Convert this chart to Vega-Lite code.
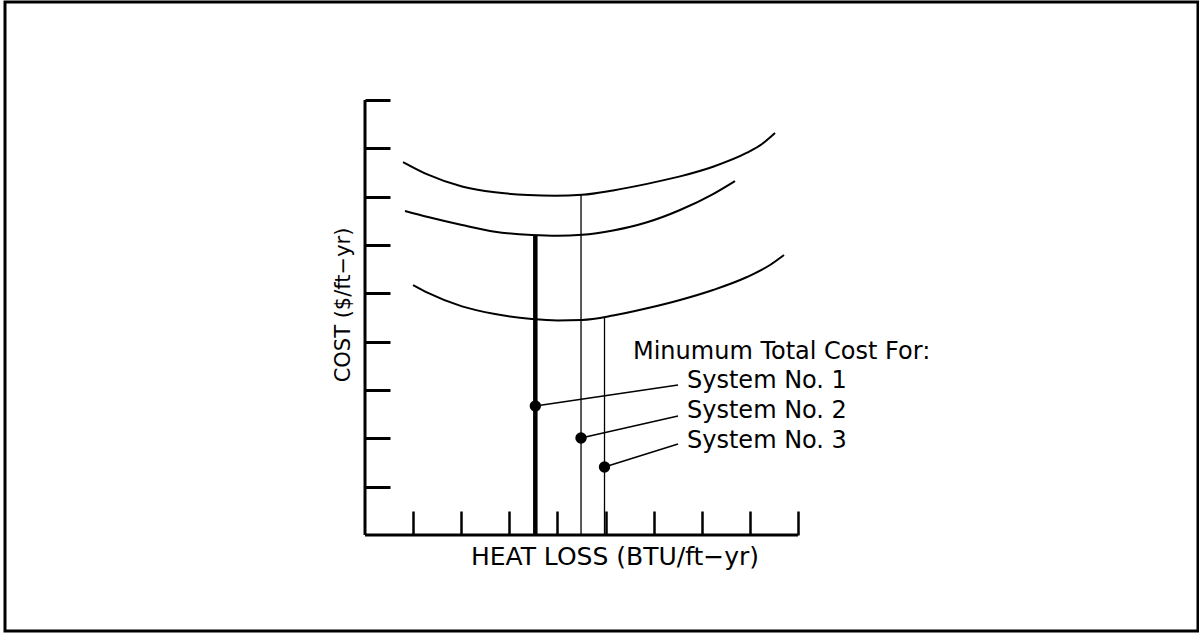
{
  "$schema": "https://vega.github.io/schema/vega-lite/v6.json",
  "width": 1193,
  "height": 629,
  "autosize": {"type": "none"},
  "padding": {"left": 5, "top": 2, "right": 1, "bottom": 2},
  "background": "white",
  "config": {
    "view": {"stroke": "black", "strokeWidth": 3},
    "font": "DejaVu Sans",
    "text": {"font": "DejaVu Sans", "color": "black"}
  },
  "datasets": {
    "axisLines": [
      {"x": 0, "y": 0, "x2": 0, "y2": 9},
      {"x": 0, "y": 0, "x2": 9, "y2": 0}
    ],
    "curves": [
      {"curve": "System No. 2 total", "x": 0.790, "y": 7.717},
      {"curve": "System No. 2 total", "x": 1.309, "y": 7.455},
      {"curve": "System No. 2 total", "x": 2.016, "y": 7.210},
      {"curve": "System No. 2 total", "x": 2.702, "y": 7.090},
      {"curve": "System No. 2 total", "x": 3.388, "y": 7.035},
      {"curve": "System No. 2 total", "x": 3.949, "y": 7.020},
      {"curve": "System No. 2 total", "x": 4.511, "y": 7.040},
      {"curve": "System No. 2 total", "x": 5.155, "y": 7.130},
      {"curve": "System No. 2 total", "x": 5.862, "y": 7.265},
      {"curve": "System No. 2 total", "x": 6.548, "y": 7.420},
      {"curve": "System No. 2 total", "x": 7.234, "y": 7.620},
      {"curve": "System No. 2 total", "x": 7.940, "y": 7.910},
      {"curve": "System No. 2 total", "x": 8.252, "y": 8.090},
      {"curve": "System No. 2 total", "x": 8.522, "y": 8.317},
      {"curve": "System No. 1 total", "x": 0.831, "y": 6.703},
      {"curve": "System No. 1 total", "x": 1.309, "y": 6.579},
      {"curve": "System No. 1 total", "x": 2.016, "y": 6.414},
      {"curve": "System No. 1 total", "x": 2.702, "y": 6.275},
      {"curve": "System No. 1 total", "x": 3.471, "y": 6.207},
      {"curve": "System No. 1 total", "x": 4.000, "y": 6.190},
      {"curve": "System No. 1 total", "x": 4.511, "y": 6.210},
      {"curve": "System No. 1 total", "x": 5.155, "y": 6.300},
      {"curve": "System No. 1 total", "x": 5.862, "y": 6.470},
      {"curve": "System No. 1 total", "x": 6.548, "y": 6.724},
      {"curve": "System No. 1 total", "x": 7.234, "y": 7.055},
      {"curve": "System No. 1 total", "x": 7.690, "y": 7.324},
      {"curve": "System No. 3 total", "x": 0.998, "y": 5.172},
      {"curve": "System No. 3 total", "x": 1.309, "y": 5.010},
      {"curve": "System No. 3 total", "x": 2.016, "y": 4.730},
      {"curve": "System No. 3 total", "x": 2.702, "y": 4.572},
      {"curve": "System No. 3 total", "x": 3.471, "y": 4.469},
      {"curve": "System No. 3 total", "x": 4.000, "y": 4.440},
      {"curve": "System No. 3 total", "x": 4.511, "y": 4.450},
      {"curve": "System No. 3 total", "x": 5.155, "y": 4.540},
      {"curve": "System No. 3 total", "x": 5.862, "y": 4.690},
      {"curve": "System No. 3 total", "x": 6.548, "y": 4.862},
      {"curve": "System No. 3 total", "x": 7.234, "y": 5.069},
      {"curve": "System No. 3 total", "x": 7.940, "y": 5.338},
      {"curve": "System No. 3 total", "x": 8.418, "y": 5.586},
      {"curve": "System No. 3 total", "x": 8.709, "y": 5.793}
    ],
    "minima": [
      {"system": 1, "x": 3.540, "y": 6.207, "dotY": 2.669, "labelX": 6.506, "labelY": 3.103},
      {"system": 2, "x": 4.490, "y": 7.038, "dotY": 2.007, "labelX": 6.506, "labelY": 2.462},
      {"system": 3, "x": 4.978, "y": 4.515, "dotY": 1.407, "labelX": 6.506, "labelY": 1.883}
    ],
    "labels": [
      {"text": "Minumum Total Cost For:", "x": 5.570, "y": 3.641},
      {"text": "System No. 1", "x": 6.693, "y": 3.041},
      {"text": "System No. 2", "x": 6.693, "y": 2.421},
      {"text": "System No. 3", "x": 6.693, "y": 1.800}
    ],
    "xTitle": [{"text": "HEAT LOSS (BTU/ft−yr)", "x": 5.196, "y": -0.621}],
    "yTitle": [{"text": "COST ($/ft−yr)", "x": -0.312, "y": 4.759}]
  },
  "encoding": {
    "x": {
      "field": "x",
      "type": "quantitative",
      "scale": {"domain": [-7.483, 17.314], "nice": false, "zero": false, "padding": 0},
      "axis": {
        "orient": "bottom",
        "offset": -96,
        "values": [1, 2, 3, 4, 5, 6, 7, 8, 9],
        "domain": false,
        "labels": false,
        "grid": false,
        "title": null,
        "tickSize": -24,
        "tickWidth": 2.5,
        "tickColor": "black"
      }
    },
    "y": {
      "field": "y",
      "type": "quantitative",
      "scale": {"domain": [-1.986, 11.028], "nice": false, "zero": false, "padding": 0},
      "axis": {
        "orient": "left",
        "offset": -360,
        "values": [1, 2, 3, 4, 5, 6, 7, 8, 9],
        "domain": false,
        "labels": false,
        "grid": false,
        "title": null,
        "tickSize": -25,
        "tickWidth": 3,
        "tickColor": "black"
      }
    }
  },
  "layer": [
    {
      "data": {"name": "axisLines"},
      "mark": {"type": "rule", "color": "black", "strokeWidth": 3},
      "encoding": {"x2": {"field": "x2"}, "y2": {"field": "y2"}}
    },
    {
      "data": {"name": "curves"},
      "mark": {"type": "line", "color": "black", "strokeWidth": 2, "interpolate": "monotone"},
      "encoding": {"detail": {"field": "curve"}}
    },
    {
      "data": {"name": "minima"},
      "transform": [{"filter": "datum.system == 1"}],
      "mark": {"type": "rule", "color": "black", "strokeWidth": 4.5},
      "encoding": {"y2": {"datum": 0}}
    },
    {
      "data": {"name": "minima"},
      "transform": [{"filter": "datum.system != 1"}],
      "mark": {"type": "rule", "color": "black", "strokeWidth": 1.3},
      "encoding": {"y2": {"datum": 0}}
    },
    {
      "data": {"name": "minima"},
      "mark": {"type": "rule", "color": "black", "strokeWidth": 1.6},
      "encoding": {
        "y": {"field": "dotY", "type": "quantitative"},
        "x2": {"field": "labelX"},
        "y2": {"field": "labelY"}
      }
    },
    {
      "data": {"name": "minima"},
      "mark": {"type": "circle", "color": "black", "opacity": 1, "size": 130},
      "encoding": {"y": {"field": "dotY", "type": "quantitative"}}
    },
    {
      "data": {"name": "labels"},
      "mark": {"type": "text", "align": "left", "baseline": "alphabetic", "fontSize": 24, "color": "black"},
      "encoding": {"text": {"field": "text"}}
    },
    {
      "data": {"name": "xTitle"},
      "mark": {"type": "text", "align": "center", "baseline": "alphabetic", "fontSize": 25, "color": "black"},
      "encoding": {"text": {"field": "text"}}
    },
    {
      "data": {"name": "yTitle"},
      "mark": {"type": "text", "align": "center", "baseline": "alphabetic", "fontSize": 21, "angle": 270, "color": "black"},
      "encoding": {"text": {"field": "text"}}
    }
  ]
}
